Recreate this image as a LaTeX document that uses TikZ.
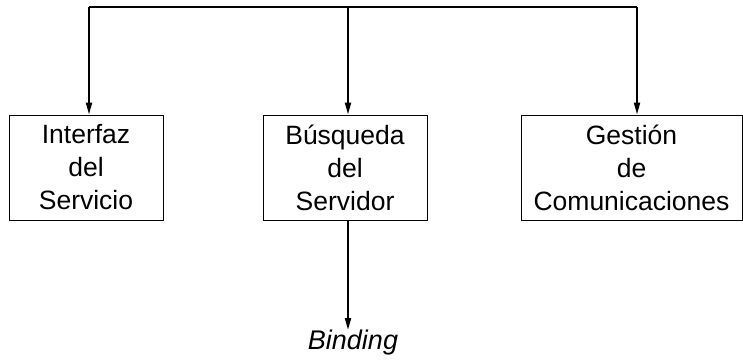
\documentclass[tikz,border=0pt]{standalone}
\usepackage{fontspec}
\setmainfont{Liberation Sans}
\usetikzlibrary{arrows.meta}
\begin{document}
\begin{tikzpicture}[x=1pt,y=-1pt,
  blk/.style={draw,line width=0.9pt,inner sep=0pt,align=center,
    font=\fontsize{26.5}{33}\selectfont},
  bus/.style={line width=2pt},
  arr/.style={line width=2pt,-{Triangle[width=6pt,length=12pt]}}]
\useasboundingbox (0,0) rectangle (743,359);
\node[blk,minimum width=154pt,minimum height=105pt] (b1) at (86,167.5) {Interfaz\\del\\Servicio};
\node[blk,minimum width=164pt,minimum height=105pt] (b2) at (345,167.5) {Búsqueda\\del\\Servidor};
\node[blk,minimum width=221pt,minimum height=105pt] (b3) at (631.5,167.5) {Gestión\\de\\Comunicaciones};
\coordinate (t1) at (89,7);
\coordinate (t2) at (348,7);
\coordinate (t3) at (637,7);
\coordinate (e) at (348,330);
\node[font=\itshape\fontsize{27}{30}\selectfont,inner sep=0pt] (bind) at (353,343) {Binding};
\draw[bus] (t1) -- (t3);
\draw[arr] (t1) -- (t1 |- b1.north);
\draw[arr] (t2) -- (t2 |- b2.north);
\draw[arr] (t3) -- (t3 |- b3.north);
\draw[arr] (e |- b2.south) -- (e);
\end{tikzpicture}
\end{document}
